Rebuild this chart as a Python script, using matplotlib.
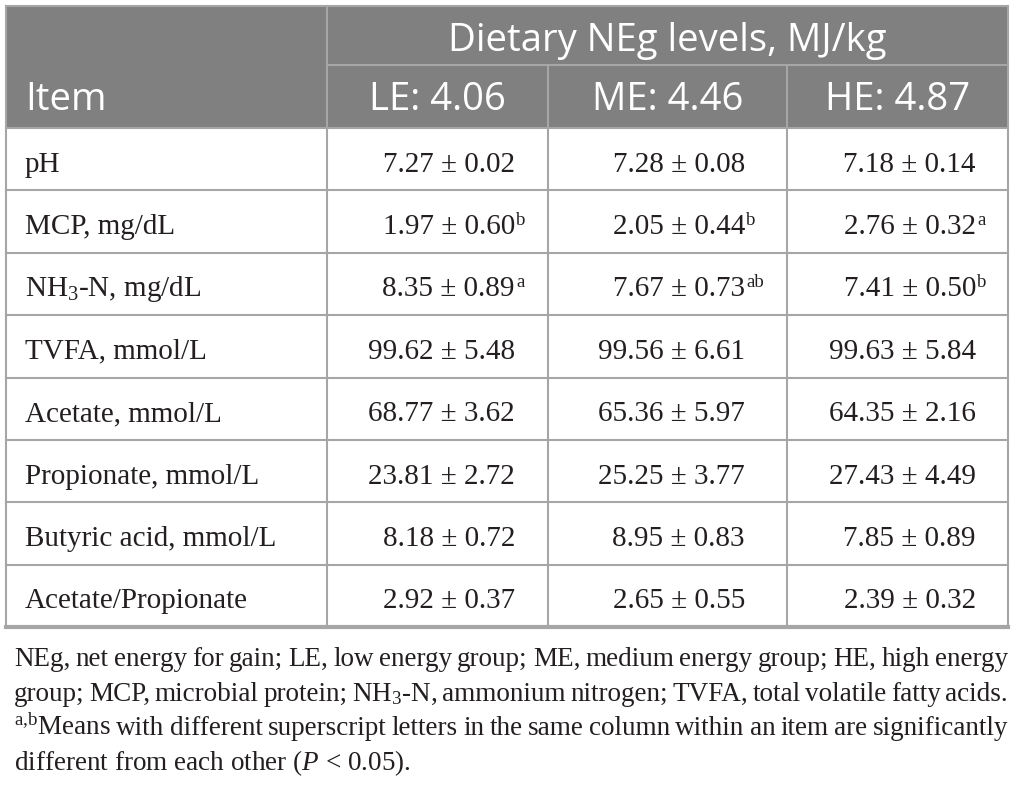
import matplotlib
matplotlib.use('Agg')
import matplotlib.pyplot as plt
from matplotlib.patches import Rectangle

plt.rcParams['mathtext.fontset'] = 'custom'
plt.rcParams['mathtext.rm'] = 'Liberation Serif'
plt.rcParams['mathtext.it'] = 'Liberation Serif:italic'
plt.rcParams['mathtext.bf'] = 'Liberation Serif:bold'

# table content
group_title = 'Dietary NEg levels, MJ/kg'
col_labels = ['LE: 4.06', 'ME: 4.46', 'HE: 4.87']
items = ['pH', 'MCP, mg/dL', 'NH$_3$-N, mg/dL', 'TVFA, mmol/L', 'Acetate, mmol/L',
         'Propionate, mmol/L', 'Butyric acid, mmol/L', 'Acetate/Propionate']
le_mean = [7.27, 1.97, 8.35, 99.62, 68.77, 23.81, 8.18, 2.92]
le_sd = [0.02, 0.60, 0.89, 5.48, 3.62, 2.72, 0.72, 0.37]
le_sup = ['', 'b', 'a', '', '', '', '', '']
me_mean = [7.28, 2.05, 7.67, 99.56, 65.36, 25.25, 8.95, 2.65]
me_sd = [0.08, 0.44, 0.73, 6.61, 5.97, 3.77, 0.83, 0.55]
me_sup = ['', 'b', 'ab', '', '', '', '', '']
he_mean = [7.18, 2.76, 7.41, 99.63, 64.35, 27.43, 7.85, 2.39]
he_sd = [0.14, 0.32, 0.50, 5.84, 2.16, 4.49, 0.89, 0.32]
he_sup = ['', 'a', 'b', '', '', '', '', '']

footnote = [
    'NEg, net energy for gain; LE, low energy group; ME, medium energy group; HE, high energy',
    'group; MCP, microbial protein; NH$_3$-N, ammonium nitrogen; TVFA, total volatile fatty acids.',
    r'$^{\mathrm{a{,}b}}$Means with different superscript letters in the same column within an item are significantly',
    'different from each other ($P$ < 0.05).',
]

# layout (pixels)
W, H = 1015, 792
left, right, top = 6, 1008, 6
col_x = [left, 327, 548, 787, right]
head1, head2 = 65, 128
row_h = (627 - head2) / len(items)
grid = '#a6a6a6'
head_bg = '#808080'
ink = '#231f20'
serif = 'Liberation Serif'
sans = 'Open Sans'

fig = plt.figure(figsize=(W / 100, H / 100), dpi=100)
ax = fig.add_axes([0, 0, 1, 1])
ax.set_xlim(0, W)
ax.set_ylim(H, 0)
ax.axis('off')

# header block
ax.add_patch(Rectangle((left, top), right - left, head2 - top, color=head_bg, lw=0))
lw = 1.5
ax.plot([col_x[1], right], [head1, head1], color=grid, lw=lw)
ax.text((col_x[1] + right) / 2, 51, group_title, color='white', fontsize=27.5,
        family=sans, ha='center', va='baseline')
ax.text(25, 110, 'Item', color='white', fontsize=27.5, family=sans, ha='left', va='baseline')
for j, lab in enumerate(col_labels):
    ax.text((col_x[j + 1] + col_x[j + 2]) / 2, 110, lab, color='white', fontsize=27.5,
            family=sans, ha='center', va='baseline')

# grid lines
for i in range(len(items)):
    y = head2 + i * row_h
    ax.plot([left, right], [y, y], color=grid, lw=lw)
ax.plot([left, right], [627, 627], color=grid, lw=3)
ax.plot([left, right], [top, top], color=grid, lw=lw)
ax.plot([left, left], [top, 627], color=grid, lw=lw)
ax.plot([right, right], [top, 627], color=grid, lw=lw)
ax.plot([col_x[1], col_x[1]], [top, 627], color=grid, lw=lw)
for x in col_x[2:4]:
    ax.plot([x, x], [head1, 627], color=grid, lw=lw)

# body
val_right = [515, 745, 976]
groups = [(le_mean, le_sd, le_sup), (me_mean, me_sd, me_sup), (he_mean, he_sd, he_sup)]
for i, item in enumerate(items):
    base = head2 + i * row_h + 0.70 * row_h
    ax.text(25, base, item, color=ink, fontsize=21, family=serif, ha='left', va='baseline')
    for j, (mean, sd, sup) in enumerate(groups):
        ax.text(val_right[j], base, f'{mean[i]:.2f} \u00b1 {sd[i]:.2f}', color=ink,
                fontsize=21, family=serif, ha='right', va='baseline')
        if sup[i]:
            ax.text(val_right[j] + 1, base - 9, sup[i], color=ink, fontsize=13.5,
                    family=serif, ha='left', va='baseline')

# footnote, justified except the last line
fx0, fx1 = 14, right
fs = 19.5
renderer = fig.canvas.get_renderer()
for k, line in enumerate(footnote):
    y = 666 + k * 34.7
    if k == len(footnote) - 1:
        ax.text(fx0, y, line, color=ink, fontsize=fs, family=serif, ha='left', va='baseline')
        continue
    words = line.split(' ')
    texts = [ax.text(0, y, w, color=ink, fontsize=fs, family=serif, ha='left', va='baseline')
             for w in words]
    widths = [t.get_window_extent(renderer).width for t in texts]
    gap = (fx1 - fx0 - sum(widths)) / (len(words) - 1)
    x = fx0
    for t, w in zip(texts, widths):
        t.set_x(x)
        x += w + gap

fig.savefig('out.png', dpi=100)
